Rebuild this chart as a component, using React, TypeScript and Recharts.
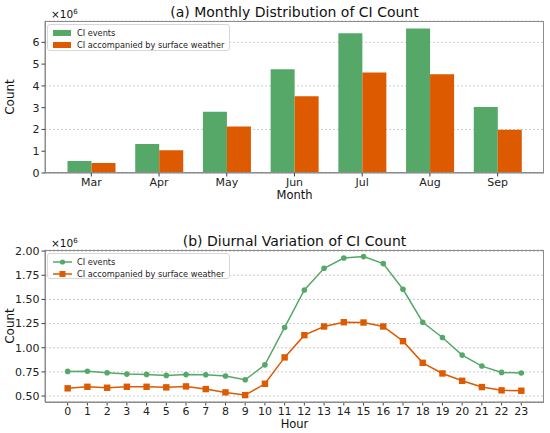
import React from "react";
import {
  BarChart, Bar, LineChart, Line, XAxis, YAxis, CartesianGrid,
} from "recharts";

const months = ["Mar", "Apr", "May", "Jun", "Jul", "Aug", "Sep"];
const monthlyEvents = [0.55, 1.33, 2.81, 4.76, 6.42, 6.64, 3.03];
const monthlyWeather = [0.46, 1.05, 2.14, 3.53, 4.62, 4.54, 1.99];

const hours = [0, 1, 2, 3, 4, 5, 6, 7, 8, 9, 10, 11, 12, 13, 14, 15, 16, 17, 18, 19, 20, 21, 22, 23];
const hourlyEvents = [
  0.755, 0.757, 0.741, 0.727, 0.724, 0.714, 0.722, 0.72, 0.707, 0.668, 0.823, 1.21,
  1.598, 1.822, 1.929, 1.943, 1.871, 1.605, 1.264, 1.106, 0.924, 0.81, 0.745, 0.738,
];
const hourlyWeather = [
  0.58, 0.596, 0.586, 0.596, 0.596, 0.59, 0.6, 0.572, 0.538, 0.51, 0.627, 0.9,
  1.13, 1.22, 1.264, 1.261, 1.22, 1.068, 0.844, 0.734, 0.658, 0.593, 0.559, 0.555,
];

const monthTicks = [0, 1, 2, 3, 4, 5, 6];
const hourTicks = [0.5, 0.75, 1.0, 1.25, 1.5, 1.75, 2.0];

const GREEN = "#55a868";
const ORANGE = "#dd5a00";
const FONT = "DejaVu Sans, sans-serif";
const SPINE = "#8c8c8c";

const monthlyData = months.map((m, i) => ({ month: m, events: monthlyEvents[i], weather: monthlyWeather[i] }));
const hourlyData = hours.map((h, i) => ({ hour: h, events: hourlyEvents[i], weather: hourlyWeather[i] }));

const tickStyle = { fontSize: 11, fill: "#222", fontFamily: FONT };

function SquareDot(props: any) {
  const { cx, cy } = props;
  if (cx == null || cy == null) return null;
  return <rect x={cx - 3.2} y={cy - 3.2} width={6.4} height={6.4} fill={ORANGE} />;
}

function LegendBox({ top, kind }: { top: number; kind: "bar" | "line" }) {
  const rows = [
    { label: "CI events", color: GREEN, marker: "circle" },
    { label: "CI accompanied by surface weather", color: ORANGE, marker: "square" },
  ];
  return (
    <div style={{
      position: "absolute", left: 47, top, width: 183, height: kind === "bar" ? 27 : 26,
      border: "1px solid #d8d8d8", borderRadius: 3, background: "rgba(255,255,255,0.85)",
      fontFamily: FONT, fontSize: 8.2, color: "#222", boxSizing: "border-box",
    }}>
      {rows.map((r, i) => (
        <div key={r.label} style={{ position: "absolute", left: 0, top: 1.5 + i * 12, height: 12, display: "flex", alignItems: "center" }}>
          <svg width={25} height={12} style={{ marginLeft: 4 }}>
            {kind === "bar" ? (
              <rect x={1} y={3} width={18} height={6} fill={r.color} />
            ) : (
              <g>
                <line x1={1} x2={20} y1={6} y2={6} stroke={r.color} strokeWidth={1.5} />
                {r.marker === "circle"
                  ? <circle cx={10.5} cy={6} r={2.6} fill={r.color} />
                  : <rect x={7.5} y={3} width={6} height={6} fill={r.color} />}
              </g>
            )}
          </svg>
          <span style={{ whiteSpace: "nowrap" }}>{r.label}</span>
        </div>
      ))}
    </div>
  );
}

function Txt({ x, y, size, children, rotate, anchor = "center" }: any) {
  return (
    <div style={{
      position: "absolute", left: x, top: y, fontFamily: FONT, fontSize: size, color: "#111",
      whiteSpace: "nowrap", lineHeight: 1,
      transform: `translate(${anchor === "center" ? "-50%" : "0"}, -50%)${rotate ? ` rotate(${rotate}deg)` : ""}`,
    }}>{children}</div>
  );
}

export default function App() {
  return (
    <div style={{ position: "absolute", left: 0, top: 0, width: 550, height: 433, background: "#fff" }}>
      {/* (a) monthly */}
      <div style={{ position: "absolute", left: 0, top: 0 }}>
        <BarChart width={550} height={200} data={monthlyData} margin={{ top: 21, right: 6, left: 0, bottom: 0 }}
          barGap={0} barSize={24}>
          <CartesianGrid vertical={false} stroke="#cccccc" strokeDasharray="2 2" />
          <XAxis dataKey="month" height={27} tick={tickStyle} tickSize={3.5} padding={{ left: 12.5, right: 12.5 }}
            axisLine={{ stroke: SPINE }} tickLine={{ stroke: "#444" }} interval={0} />
          <YAxis width={45} domain={[0, 6.98]} ticks={monthTicks} tick={tickStyle} tickSize={3.5}
            axisLine={{ stroke: SPINE }} tickLine={{ stroke: "#444" }} allowDataOverflow />
          <Bar dataKey="events" fill={GREEN} isAnimationActive={false} />
          <Bar dataKey="weather" fill={ORANGE} isAnimationActive={false} />
        </BarChart>
      </div>
      <div style={{ position: "absolute", left: 45, top: 21, width: 499, height: 152, border: `1px solid ${SPINE}`, boxSizing: "border-box", pointerEvents: "none" }} />
      <LegendBox top={24} kind="bar" />
      <Txt x={294.5} y={12} size={14}>(a) Monthly Distribution of CI Count</Txt>
      <Txt x={51} y={14} size={10.5} anchor="left">×10<sup style={{ fontSize: 7 }}>6</sup></Txt>
      <Txt x={10} y={97} size={12} rotate={-90}>Count</Txt>
      <Txt x={294.5} y={196} size={11.5}>Month</Txt>

      {/* (b) diurnal */}
      <div style={{ position: "absolute", left: 0, top: 230 }}>
        <LineChart width={550} height={203} data={hourlyData} margin={{ top: 20, right: 6, left: 0, bottom: 0 }}>
          <CartesianGrid vertical={false} stroke="#cccccc" strokeDasharray="2 2" />
          <XAxis dataKey="hour" type="number" domain={[-1.15, 24.15]} ticks={hours} height={31} tick={tickStyle}
            tickSize={3.5} axisLine={{ stroke: SPINE }} tickLine={{ stroke: "#444" }} interval={0} allowDataOverflow />
          <YAxis width={45} domain={[0.4385, 2.0115]} ticks={hourTicks} tick={tickStyle} tickSize={3.5}
            tickFormatter={(v: number) => v.toFixed(2)} axisLine={{ stroke: SPINE }} tickLine={{ stroke: "#444" }} allowDataOverflow />
          <Line dataKey="events" stroke={GREEN} strokeWidth={1.5} dot={{ r: 2.8, fill: GREEN, stroke: GREEN, strokeWidth: 0 }}
            type="linear" isAnimationActive={false} />
          <Line dataKey="weather" stroke={ORANGE} strokeWidth={1.5} dot={<SquareDot />} type="linear" isAnimationActive={false} />
        </LineChart>
      </div>
      <div style={{ position: "absolute", left: 45, top: 250, width: 499, height: 153, border: `1px solid ${SPINE}`, boxSizing: "border-box", pointerEvents: "none" }} />
      <LegendBox top={253} kind="line" />
      <Txt x={294.5} y={241} size={14}>(b) Diurnal Variation of CI Count</Txt>
      <Txt x={51} y={243} size={10.5} anchor="left">×10<sup style={{ fontSize: 7 }}>6</sup></Txt>
      <Txt x={10} y={326} size={12} rotate={-90}>Count</Txt>
      <Txt x={294.5} y={425} size={11.5}>Hour</Txt>
    </div>
  );
}
